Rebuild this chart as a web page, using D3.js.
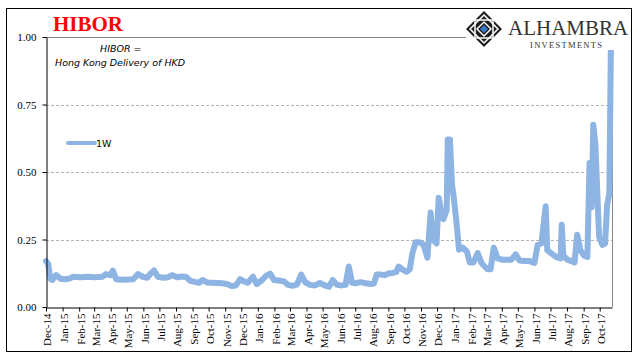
<!DOCTYPE html>
<html>
<head>
<meta charset="utf-8">
<script src="https://cdn.jsdelivr.net/npm/d3@7"></script>
<style>
  body { margin: 0; background: #fff; }
  svg { display: block; }
</style>
</head>
<body>
<div id="chart"></div>
<script>
// 1-week HIBOR readings (date, percent)
const dates = [
  "2014-12-01","2014-12-05","2014-12-09","2014-12-13","2014-12-20","2014-12-28",
  "2015-01-06","2015-01-15","2015-01-21","2015-02-03","2015-02-18","2015-03-03",
  "2015-03-16","2015-03-23","2015-03-31","2015-04-05","2015-04-11","2015-04-22",
  "2015-05-03","2015-05-13","2015-05-22","2015-05-31","2015-06-08","2015-06-15",
  "2015-06-21","2015-06-28","2015-07-08","2015-07-17","2015-07-25","2015-08-03",
  "2015-08-12","2015-08-20","2015-08-27","2015-09-05","2015-09-13","2015-09-20",
  "2015-09-28","2015-10-07","2015-10-17","2015-10-26","2015-11-04","2015-11-13",
  "2015-11-21","2015-11-29","2015-12-06","2015-12-13","2015-12-23","2015-12-30",
  "2016-01-09","2016-01-16","2016-01-24","2016-01-31","2016-02-09","2016-02-19",
  "2016-02-26","2016-03-07","2016-03-14","2016-03-22","2016-03-29","2016-04-07",
  "2016-04-17","2016-04-26","2016-05-05","2016-05-13","2016-05-20","2016-05-28",
  "2016-06-06","2016-06-13","2016-06-19","2016-06-25","2016-07-02","2016-07-11",
  "2016-07-21","2016-07-30","2016-08-05","2016-08-10","2016-08-18","2016-08-25",
  "2016-09-02","2016-09-09","2016-09-16","2016-09-20","2016-09-28","2016-10-05",
  "2016-10-11","2016-10-16","2016-10-22","2016-10-29","2016-11-06","2016-11-13",
  "2016-11-19","2016-11-23","2016-11-30","2016-12-04","2016-12-10","2016-12-13",
  "2016-12-19","2016-12-21","2016-12-25","2016-12-29","2017-01-01","2017-01-07",
  "2017-01-11","2017-01-18","2017-01-26","2017-01-31","2017-02-07","2017-02-15",
  "2017-02-22","2017-02-28","2017-03-05","2017-03-11","2017-03-17","2017-03-24",
  "2017-04-02","2017-04-12","2017-04-19","2017-04-27","2017-05-04","2017-05-14",
  "2017-05-23","2017-06-01","2017-06-07","2017-06-14","2017-06-22","2017-06-25",
  "2017-07-05","2017-07-12","2017-07-20","2017-07-22","2017-07-25","2017-08-02",
  "2017-08-09","2017-08-15","2017-08-20","2017-08-26","2017-09-02","2017-09-08",
  "2017-09-12","2017-09-16","2017-09-19","2017-09-23","2017-09-27","2017-09-30",
  "2017-10-06","2017-10-11","2017-10-15","2017-10-19","2017-10-22"
];
const w1Values = [
  0.17, 0.16, 0.105, 0.10, 0.118, 0.105,
  0.103, 0.106, 0.112, 0.11, 0.112, 0.11,
  0.112, 0.122, 0.118, 0.135, 0.103, 0.101,
  0.102, 0.103, 0.122, 0.112, 0.108, 0.125,
  0.135, 0.112, 0.108, 0.11, 0.118, 0.11,
  0.113, 0.111, 0.098, 0.093, 0.09, 0.10,
  0.091, 0.09, 0.089, 0.088, 0.085, 0.078,
  0.08, 0.103, 0.095, 0.09, 0.112, 0.085,
  0.10, 0.115, 0.124, 0.10, 0.098, 0.095,
  0.082, 0.079, 0.083, 0.12, 0.093, 0.082,
  0.08, 0.089, 0.08, 0.075, 0.10, 0.082,
  0.08, 0.082, 0.15, 0.09, 0.088, 0.092,
  0.088, 0.085, 0.087, 0.12, 0.12, 0.118,
  0.125, 0.126, 0.13, 0.15, 0.138, 0.13,
  0.14, 0.20, 0.24, 0.24, 0.23, 0.183,
  0.35, 0.25, 0.235, 0.405, 0.34, 0.325,
  0.36, 0.62, 0.62, 0.45, 0.41, 0.30,
  0.212, 0.22, 0.205, 0.165, 0.165, 0.20,
  0.163, 0.15, 0.14, 0.14, 0.22, 0.18,
  0.175, 0.175, 0.175, 0.195, 0.172, 0.17,
  0.17, 0.163, 0.23, 0.235, 0.373, 0.21,
  0.195, 0.185, 0.18, 0.305, 0.19, 0.175,
  0.17, 0.165, 0.268, 0.21, 0.19, 0.185,
  0.533, 0.37, 0.675, 0.60, 0.40, 0.26,
  0.23, 0.235, 0.38, 0.42, 0.98
];
const yTicks = [0, 0.25, 0.5, 0.75, 1.0];
const xStart = "2014-12-01";
const xEnd = "2017-10-24";
const seriesName = "1W";

const W = 641, H = 361;
const plot = { left: 46, right: 612, top: 37, bottom: 307 };
const lineColor = "#8db4e2";

const parse = d3.timeParse("%Y-%m-%d");
const data = dates.map((d, i) => ({ date: parse(d), value: w1Values[i] }));

const svg = d3.select("#chart").append("svg")
    .attr("width", W)
    .attr("height", H);

svg.append("rect").attr("width", W).attr("height", H).attr("fill", "#fff");

// outer frame
svg.append("rect")
    .attr("x", 6.5).attr("y", 8.5)
    .attr("width", 625).attr("height", 343)
    .attr("fill", "none").attr("stroke", "#000").attr("stroke-width", 1);

// scales
const x = d3.scaleTime()
    .domain([parse(xStart), parse(xEnd)])
    .range([plot.left, plot.right]);

const y = d3.scaleLinear()
    .domain([0, 1])
    .range([plot.bottom, plot.top]);

// gridlines
svg.append("g")
    .selectAll("line")
    .data(yTicks.filter(t => t > 0 && t < 1))
    .join("line")
    .attr("x1", plot.left).attr("x2", plot.right)
    .attr("y1", d => Math.round(y(d)) + 0.5).attr("y2", d => Math.round(y(d)) + 0.5)
    .attr("stroke", "#b4b4b4")
    .attr("stroke-dasharray", "3,2");

// plot border (top + right)
svg.append("path")
    .attr("d", `M${plot.left},${plot.top + 0.5}H${plot.right + 0.5}V${plot.bottom}`)
    .attr("fill", "none")
    .attr("stroke", "#868686");

// series line
const line = d3.line()
    .x(d => x(d.date))
    .y(d => y(d.value));

svg.append("path")
    .datum(data)
    .attr("d", line)
    .attr("fill", "none")
    .attr("stroke", lineColor)
    .attr("stroke-width", 6)
    .attr("stroke-linejoin", "round")
    .attr("stroke-linecap", "round");

// y axis
const yAxis = svg.append("g")
    .attr("transform", `translate(${plot.left + 0.5},0)`)
    .call(d3.axisLeft(y).tickValues(yTicks).tickFormat(d3.format(".2f")).tickSize(4).tickSizeOuter(0));
yAxis.select(".domain").attr("stroke", "#000");
yAxis.selectAll("text")
    .attr("font-family", "'Liberation Serif', 'Times New Roman', serif")
    .attr("font-size", 11)
    .attr("fill", "#000")
    .attr("x", -10);

// x axis
const months = d3.timeMonth.range(parse(xStart), parse(xEnd));
const xAxis = svg.append("g")
    .attr("transform", `translate(0,${plot.bottom + 0.5})`)
    .call(d3.axisBottom(x).tickValues(months).tickFormat(d3.timeFormat("%b-%y")).tickSize(4).tickSizeOuter(0));
xAxis.select(".domain").attr("stroke", "#000");
xAxis.selectAll("text")
    .attr("font-family", "'Liberation Serif', 'Times New Roman', serif")
    .attr("font-size", 11)
    .attr("fill", "#000")
    .attr("text-anchor", "end")
    .attr("transform", "rotate(-90)")
    .attr("x", -6)
    .attr("y", 1)
    .attr("dy", "0.35em");

// title
svg.append("text")
    .attr("x", 53).attr("y", 31)
    .attr("font-family", "'Liberation Serif', 'Times New Roman', serif")
    .attr("font-weight", "bold")
    .attr("font-size", 21)
    .attr("fill", "#ff0000")
    .text("HIBOR");

// annotation
const note = svg.append("g")
    .attr("font-family", "'DejaVu Sans', Verdana, sans-serif")
    .attr("font-style", "italic")
    .attr("font-size", 9.5)
    .attr("fill", "#000");
note.append("text").attr("x", 100).attr("y", 52).text("HIBOR =");
note.append("text").attr("x", 55).attr("y", 66).text("Hong Kong Delivery of HKD");

// legend
svg.append("line")
    .attr("x1", 68).attr("x2", 95)
    .attr("y1", 143).attr("y2", 143)
    .attr("stroke", lineColor)
    .attr("stroke-width", 4)
    .attr("stroke-linecap", "round");
svg.append("text")
    .attr("x", 96).attr("y", 146.5)
    .attr("font-family", "'DejaVu Sans', Verdana, sans-serif")
    .attr("font-size", 9.5)
    .attr("fill", "#000")
    .text(seriesName);

// logo block
const logo = svg.append("g");
logo.append("rect")
    .attr("x", 466).attr("y", 9)
    .attr("width", 165).attr("height", 41)
    .attr("fill", "#fff");

const cx = 484, cy = 29, r = 18;
const diamond = s => `M${cx},${cy - s}L${cx + s},${cy}L${cx},${cy + s}L${cx - s},${cy}Z`;
logo.append("path").attr("d", diamond(r)).attr("fill", "#1e1e1e");
logo.append("path").attr("d", diamond(r - 4)).attr("fill", "none").attr("stroke", "#fff").attr("stroke-width", 1.5);
logo.append("rect")
    .attr("x", cx - 9).attr("y", cy - 9).attr("width", 18).attr("height", 18)
    .attr("fill", "none").attr("stroke", "#fff").attr("stroke-width", 1.5);
logo.append("path").attr("d", diamond(8)).attr("fill", "#fff");
logo.append("path").attr("d", diamond(6)).attr("fill", "#1e1e1e");
logo.append("path").attr("d", diamond(4)).attr("fill", "#3a78c9");

logo.append("text")
    .attr("x", 508).attr("y", 35)
    .attr("font-family", "'Liberation Serif', 'Times New Roman', serif")
    .attr("font-size", 21)
    .attr("fill", "#333")
    .text("ALHAMBRA");
logo.append("text")
    .attr("x", 530).attr("y", 48)
    .attr("font-family", "'Liberation Serif', 'Times New Roman', serif")
    .attr("font-size", 8.5)
    .attr("letter-spacing", 1.3)
    .attr("fill", "#333")
    .text("INVESTMENTS");
</script>
</body>
</html>
